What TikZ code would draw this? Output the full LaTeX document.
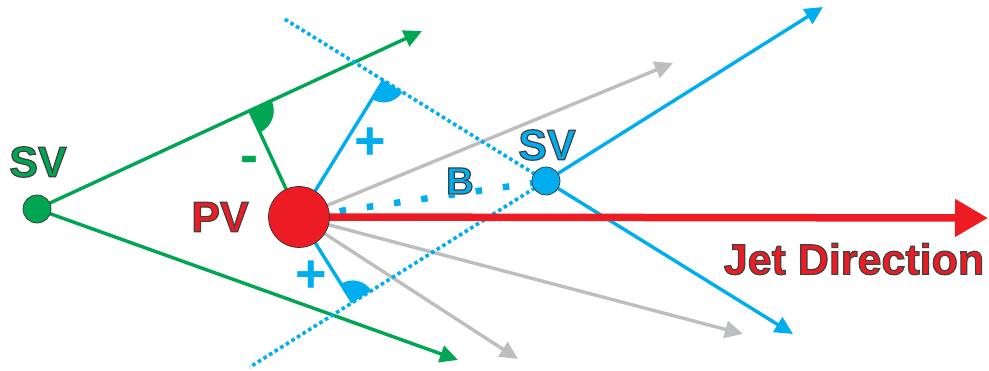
\documentclass[tikz,border=0pt]{standalone}
\usepackage{fontspec}
\setmainfont{Liberation Sans}
\usetikzlibrary{arrows.meta,calc}
\definecolor{cgreen}{RGB}{0,166,81}
\definecolor{cblue}{RGB}{0,174,239}
\definecolor{cred}{RGB}{237,28,36}
\definecolor{cgray}{RGB}{188,190,192}
\newcommand\olt[1]{\special{pdf:literal direct 2 Tr 1.2 w 0.25 0.25 0.25 RG}#1\special{pdf:literal direct 0 Tr}}
\tikzset{
  trk/.style={line width=3.4pt,-{Triangle[length=18pt,width=17pt]}},
  perpline/.style={line width=3.4pt},
  smalldots/.style={cblue,line width=3.6pt,dash pattern=on 3.6pt off 3pt},
  bigdots/.style={cblue,line width=6.5pt,dash pattern=on 6.5pt off 21pt},
  vtx/.style={circle,inner sep=0pt,draw=black!80,line width=0.7pt},
  lbl/.style={inner sep=0pt,font=\fontsize{43}{43}\selectfont\bfseries},
  sgn/.style={inner sep=0pt,font=\fontsize{54}{54}\selectfont\bfseries}
}
\begin{document}
\begin{tikzpicture}[x=1pt,y=1pt]
\useasboundingbox (0,0) rectangle (989,370);
% key points
\coordinate (PV) at (299,153);
\coordinate (SVg) at (37,161);
\coordinate (SVb) at (546,189);
\coordinate (GT1) at (422,339);
\coordinate (GT2) at (458,10);
\coordinate (BT1) at (823,363);
\coordinate (BT2) at (793,36);
\coordinate (G1) at (673,307);
\coordinate (G2) at (743,36);
\coordinate (G3) at (518,11);
\coordinate (JT) at (988,152);
\coordinate (D1) at ($(SVb)!-1.06!(BT2)$);
\coordinate (D2) at ($(SVb)!-1.07!(BT1)$);
\coordinate (Fg) at ($(SVg)!(PV)!(GT1)$);
\coordinate (Fb1) at ($(SVb)!(PV)!(D1)$);
\coordinate (Fb2) at ($(SVb)!(PV)!(D2)$);
% gray tracks
\draw[cgray,trk] (PV) -- (G1);
\draw[cgray,trk] (PV) -- (G2);
\draw[cgray,trk] (PV) -- (G3);
% green tracks
\draw[cgreen,trk] (SVg) -- (GT1);
\draw[cgreen,trk] (SVg) -- (GT2);
\draw[cgreen,perpline] (PV) -- (Fg);
% blue extensions
\draw[smalldots] (SVb) -- (D1);
\draw[smalldots] (SVb) -- (D2);
% blue tracks
\draw[cblue,trk] (SVb) -- (BT1);
\draw[cblue,trk] (SVb) -- (BT2);
\draw[cblue,perpline] (PV) -- (Fb1);
\draw[cblue,perpline] (PV) -- (Fb2);
% angle marks
\fill[cgreen] (Fg) -- ++(-65.2:24) arc[start angle=-65.2,end angle=24.8,radius=24] -- cycle;
\fill[cblue] (Fb1) -- ++(-121.8:22) arc[start angle=-121.8,end angle=-31.8,radius=22] -- cycle;
\fill[cblue] (Fb2) -- ++(32.1:22) arc[start angle=32.1,end angle=122.1,radius=22] -- cycle;
% impact parameter
\draw[bigdots,shorten <=41pt,shorten >=12pt] (PV) -- (SVb);
% jet direction
\draw[cred,line width=7.5pt,-{Triangle[length=33pt,width=36pt]}] (PV) -- (JT);
% vertices
\node[vtx,fill=cred,minimum size=61pt] (pv) at (PV) {};
\node[vtx,fill=cgreen,minimum size=28pt] (svg) at (SVg) {};
\node[vtx,fill=cblue,minimum size=28pt] (svb) at (SVb) {};
% labels
\node[lbl,text=cgreen] (lsvg) at (38,208) {\olt{SV}};
\node[lbl,text=cred] (lpv) at (220,153) {\olt{PV}};
\node[lbl,text=cblue] (lsvb) at (547,225) {\olt{SV}};
\node[inner sep=1pt,fill=white,font=\fontsize{38}{38}\selectfont\bfseries,text=cblue] (lb) at (460,189) {\olt{B}};
\node[lbl,text=cred] (ljet) at (854,111) {\olt{Jet Direction}};
\node[sgn,text=cgreen,anchor=base] (lminus) at (249,196) {-};
\node[sgn,text=cblue] (lplus1) at (370,226) {+};
\node[sgn,text=cblue] (lplus2) at (311,93) {+};
\end{tikzpicture}
\end{document}
